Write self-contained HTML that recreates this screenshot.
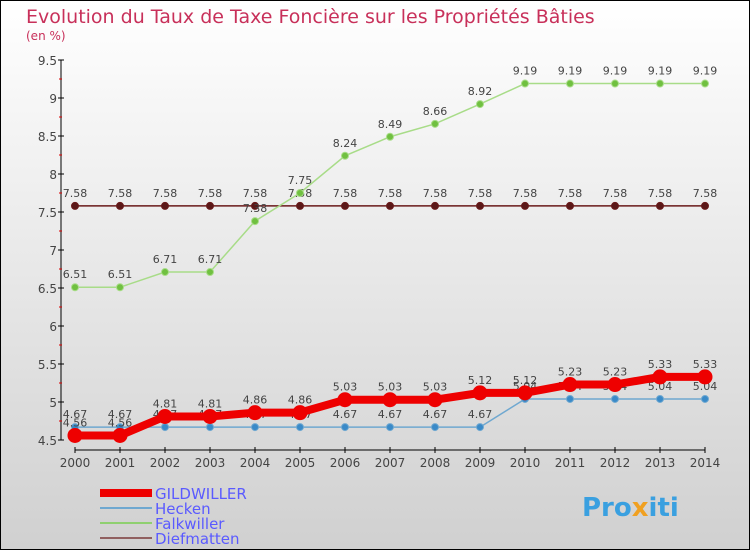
<!DOCTYPE html>
<html><head><meta charset="utf-8"><style>
body{margin:0;width:750px;height:550px;overflow:hidden;font-family:"DejaVu Sans","Liberation Sans",sans-serif}
svg{display:block}
</style></head><body>
<svg width="750" height="550" xmlns="http://www.w3.org/2000/svg">
<defs><linearGradient id="bg" x1="0" y1="0" x2="0" y2="1"><stop offset="0" stop-color="#ffffff"/><stop offset="1" stop-color="#d0d0d0"/></linearGradient></defs>
<rect x="0.5" y="0.5" width="749" height="549" fill="url(#bg)" stroke="#000"/>
<text x="26" y="23" font-size="19" fill="#c8305a">Evolution du Taux de Taxe Foncière sur les Propriétés Bâties</text>
<text x="26" y="40" font-size="12" fill="#c8305a">(en %)</text>
<g id="axes"></g>
<g id="series"></g>
<g id="legend" font-size="15" fill="#5a5aff">
<rect x="100" y="489" width="52" height="8" fill="#e00"/>
<text x="155" y="499">GILDWILLER</text>
<rect x="100" y="507" width="52" height="2" fill="#6fa8d0"/>
<text x="155" y="514">Hecken</text>
<rect x="100" y="522" width="52" height="2" fill="#8fd070"/>
<text x="155" y="529">Falkwiller</text>
<rect x="100" y="537" width="52" height="2" fill="#906060"/>
<text x="155" y="544">Diefmatten</text>
</g>
<text x="582" y="516" font-size="26" font-weight="bold" fill="#3aa0e0">Pro<tspan fill="#f0a020">x</tspan>iti</text>
</svg>
<script>
const years=["2000","2001","2002","2003","2004","2005","2006","2007","2008","2009","2010","2011","2012","2013","2014"];
const yTicks=[4.5,5,5.5,6,6.5,7,7.5,8,8.5,9,9.5];
const yTickLabels=["4.5","5","5.5","6","6.5","7","7.5","8","8.5","9","9.5"];
const gildwiller=[4.56,4.56,4.81,4.81,4.86,4.86,5.03,5.03,5.03,5.12,5.12,5.23,5.23,5.33,5.33];
const hecken=[4.67,4.67,4.67,4.67,4.67,4.67,4.67,4.67,4.67,4.67,5.04,5.04,5.04,5.04,5.04];
const falkwiller=[6.51,6.51,6.71,6.71,7.38,7.75,8.24,8.49,8.66,8.92,9.19,9.19,9.19,9.19,9.19];
const diefmatten=[7.58,7.58,7.58,7.58,7.58,7.58,7.58,7.58,7.58,7.58,7.58,7.58,7.58,7.58,7.58];
const NS="http://www.w3.org/2000/svg";
const X=i=>75+i*45, Y=v=>440-(v-4.5)*76;
function mk(t,a,p){const e=document.createElementNS(NS,t);for(const k in a)e.setAttribute(k,a[k]);p.appendChild(e);return e;}
const ax=document.getElementById('axes');
let l=mk('line',{x1:61,y1:60,x2:61,y2:440,stroke:'#000'},ax);

yTicks.forEach((v,i)=>{mk('line',{x1:58,y1:Y(v),x2:64,y2:Y(v),stroke:'#000'},ax);
 if(i<yTicks.length-1)mk('line',{x1:59,y1:Y(v+0.25),x2:62,y2:Y(v+0.25),stroke:'#d00'},ax);
 const t=mk('text',{x:57,y:Y(v)+5,'text-anchor':'end','font-size':12,fill:'#444'},ax);t.textContent=yTickLabels[i];
 });
l=mk('line',{x1:75,y1:450,x2:705,y2:450,stroke:'#000'},ax);

years.forEach((y,i)=>{mk('line',{x1:X(i),y1:447,x2:X(i),y2:453,stroke:'#000'},ax);
 const t=mk('text',{x:X(i),y:467,'text-anchor':'middle','font-size':12,fill:'#444'},ax);t.textContent=y;
 });
const sg=document.getElementById('series');
function series(name,data,color,w,r,dot){
 const g=mk('g',{},sg);
 const p=mk('polyline',{points:data.map((v,i)=>X(i)+','+Y(v)).join(' '),fill:'none',stroke:color,'stroke-width':w},g);
 
 data.forEach((v,i)=>{const c=mk('circle',{cx:X(i),cy:Y(v),r:r,fill:dot,stroke:color,'stroke-width':1},g);
  
  const t=mk('text',{x:X(i),y:Y(v)-9,'text-anchor':'middle','font-size':11,fill:'#444'},g);t.textContent=v.toFixed(2).replace(/0$/,'');
  });
}
series('diefmatten',diefmatten,'#6a1a1a',1.5,3.5,'#5a1818');
series('falkwiller',falkwiller,'#a8dc88',1.5,3.5,'#70c040');
series('hecken',hecken,'#6fa8d0',1.5,3.5,'#3a8ac8');
series('gildwiller',gildwiller,'#ee0000',8,7,'#ee0000');
</script>
</body></html>
